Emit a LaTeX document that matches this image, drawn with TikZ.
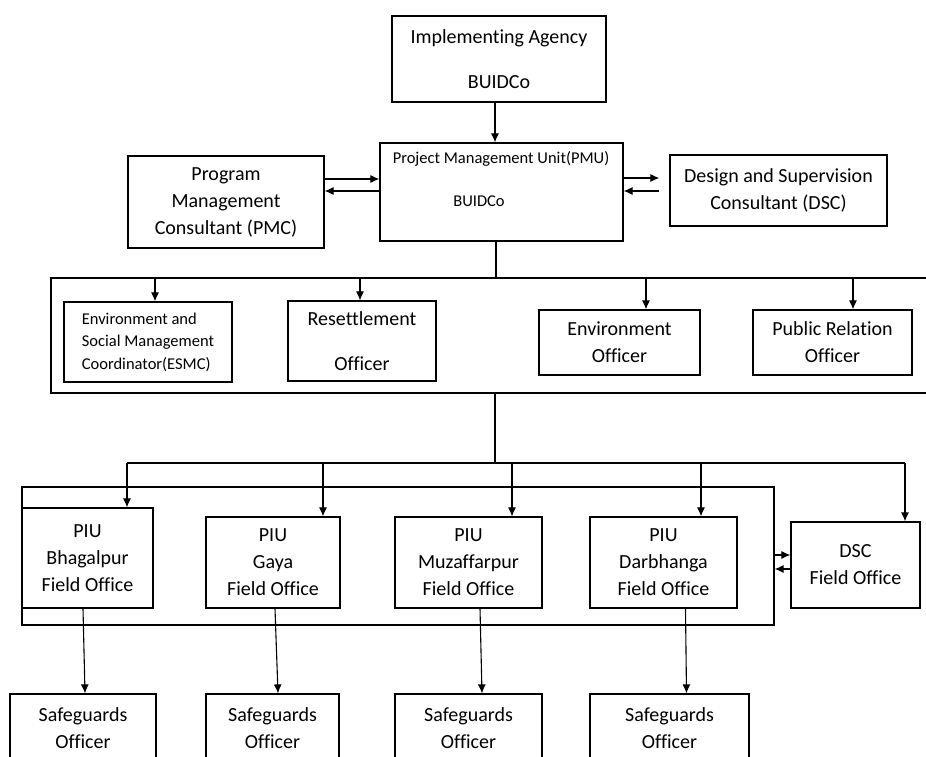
\documentclass[tikz,border=0pt]{standalone}
\usepackage{fontspec}
\setmainfont{Carlito}[Ligatures=NoCommon]
\usetikzlibrary{positioning,calc,arrows.meta}

\tikzset{
	box/.style={draw,line width=1.2pt,inner sep=2pt,align=center,font=\fontsize{20}{27}\selectfont},
	smallbox/.style={box,font=\fontsize{16.5}{22.5}\selectfont},
	frame/.style={draw,line width=1.2pt,inner sep=0pt},
	arr/.style={-{Latex[length=9pt,width=8pt]},line width=1.1pt},
	wire/.style={line width=1.1pt}
}

\begin{document}
\begin{tikzpicture}[x=1pt,y=-1pt]
	\clip (0,0) rectangle (926,756);
	% agency and PMU
	\node[box,minimum width=214,minimum height=86] (ia) at (499,59) {Implementing Agency\\[18pt]BUIDCo};
	\node[frame,minimum width=243,minimum height=98] (pmu) at (501.5,192) {};
	\node[font=\fontsize{16.5}{22.5}\selectfont] (pmutitle) at (501,159) {Project Management Unit(PMU)};
	\node[font=\fontsize{16.5}{22.5}\selectfont] (pmuname) at (479,201) {BUIDCo};
	\node[box,minimum width=196,minimum height=92] (pmc) at (226,202) {Program\\Management\\Consultant (PMC)};
	\node[box,minimum width=217,minimum height=71] (dsc) at (778.5,190.5) {Design and Supervision\\Consultant (DSC)};
	\draw[arr] (ia.south -| 495,0) -- (pmu.north -| 495,0);
	\draw[arr] (pmc.east |- 0,179) -- (pmu.west |- 0,179);
	\draw[arr] (pmu.west |- 0,191) -- (pmc.east |- 0,191);
	\draw[arr,shorten >=10pt] (pmu.east |- 0,178) -- (dsc.west |- 0,178);
	\draw[arr,shorten <=10pt] (dsc.west |- 0,191) -- (pmu.east |- 0,191);

	% PMU staff
	\node[frame,minimum width=889,minimum height=115] (staff) at (495.5,335.5) {};
	\node[smallbox,align=left,minimum width=168,minimum height=80] (esmc) at (148,342) {Environment and\\Social Management\\Coordinator(ESMC)\hspace{3pt}};
	\node[box,minimum width=148,minimum height=80] (rso) at (362,341) {Resettlement\\[18pt]Officer};
	\node[box,minimum width=161,minimum height=65] (eo) at (619.5,342.5) {Environment\\Officer};
	\node[box,minimum width=159,minimum height=65] (pro) at (832.5,342.5) {Public Relation\\Officer};
	\draw[wire] (pmu.south -| 496,0) -- (staff.north -| 496,0);
	\foreach \x/\n in {155/esmc,360/rso,646/eo,853/pro}
		\draw[arr] (staff.north -| \x,0) -- (\n.north -| \x,0);

	% field offices
	\coordinate (hub) at (495,463);
	\node[frame,minimum width=752,minimum height=138] (piu) at (398,556) {};
	\node[box,minimum width=131,minimum height=100] (piub) at (87.5,558) {PIU\\Bhagalpur\\Field Office};
	\node[box,minimum width=134,minimum height=91] (piug) at (273,562.5) {PIU\\Gaya\\Field Office};
	\node[box,minimum width=147,minimum height=91] (pium) at (468.5,562.5) {PIU\\Muzaffarpur\\Field Office};
	\node[box,minimum width=147,minimum height=91] (piud) at (663.5,562.5) {PIU\\Darbhanga\\Field Office};
	\node[box,minimum width=129,minimum height=86] (dscf) at (855.5,565) {DSC\\Field Office};
	\draw[wire] (staff.south -| hub) -- (hub);
	\draw[wire] (hub -| 127,0) -- (hub -| 905,0);
	\foreach \x/\n in {127/piub,323/piug,512/pium,701/piud,905/dscf}
		\draw[arr] (hub -| \x,0) -- (\n.north -| \x,0);
	\draw[arr] (piu.east |- 0,555) -- (dscf.west |- 0,555);
	\draw[arr] (dscf.west |- 0,569) -- (piu.east |- 0,569);

	% safeguards
	\node[box,minimum width=146,minimum height=69] (sob) at (83,728.5) {Safeguards\\Officer};
	\node[box,minimum width=133,minimum height=69] (sog) at (272.5,728.5) {Safeguards\\Officer};
	\node[box,minimum width=147,minimum height=69] (som) at (468.5,728.5) {Safeguards\\Officer};
	\node[box,minimum width=159,minimum height=69] (sod) at (669.5,728.5) {Safeguards\\Officer};
	\foreach \a/\b/\s/\t in {piub/sob/-4.5/2,piug/sog/2/5.5,pium/som/11.5/13.5,piud/sod/22/17}
		\draw[arr] ([xshift=\s pt]\a.south) -- ([xshift=\t pt]\b.north);
\end{tikzpicture}
\end{document}
